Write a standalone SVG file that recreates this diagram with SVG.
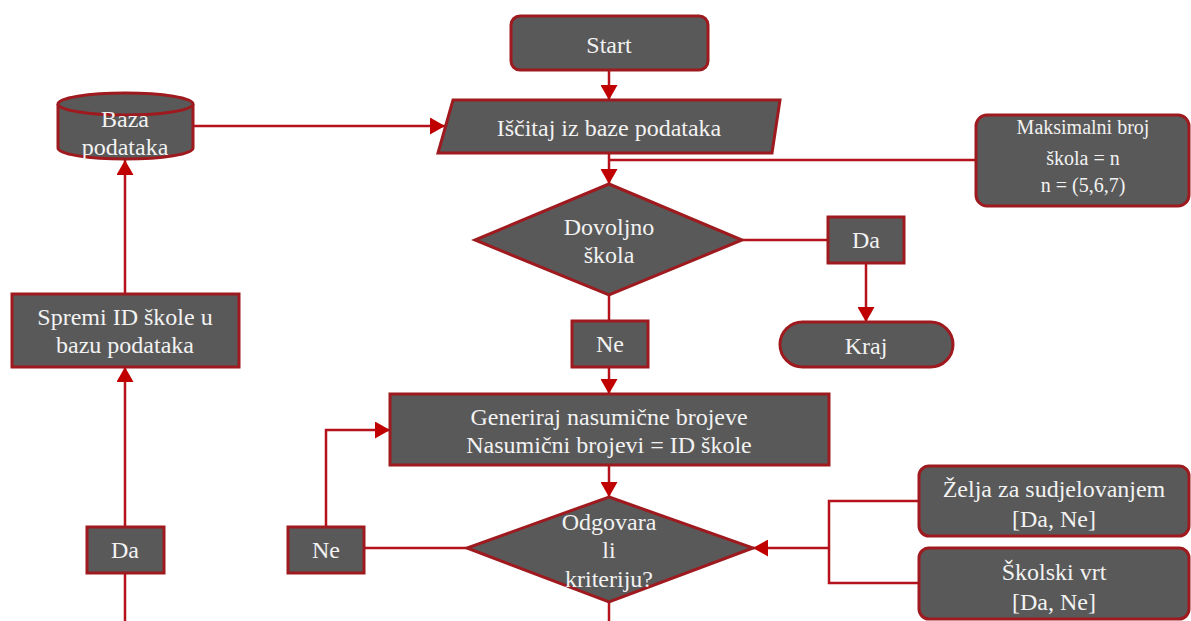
<svg xmlns="http://www.w3.org/2000/svg" width="1191" height="621" viewBox="0 0 1191 621">
<defs>
<style>
.n{fill:#595959;stroke:#9e1a1f;stroke-width:3}
.t{font-family:"Liberation Serif","Times New Roman",serif;font-size:24px;fill:#f2f2f2;text-anchor:middle}
.s{font-size:20px}
.c{fill:none;stroke:#b5121b;stroke-width:2.5}
</style>
<marker id="a" markerUnits="userSpaceOnUse" markerWidth="16" markerHeight="17" refX="15" refY="8.5" orient="auto">
<path d="M0,0 L15,8.5 L0,17 z" fill="#c00000"/>
</marker>
</defs>
<rect width="1191" height="621" fill="#ffffff"/>
<g id="connectors">
<path class="c" d="M609,70 V100" marker-end="url(#a)"/>
<path class="c" d="M193,126 H445" marker-end="url(#a)"/>
<path class="c" d="M609,153 V184" marker-end="url(#a)"/>
<path class="c" d="M609,160 H976"/>
<path class="c" d="M742,240 H828"/>
<path class="c" d="M866,263 V322" marker-end="url(#a)"/>
<path class="c" d="M609,295 V321"/>
<path class="c" d="M609,367 V394" marker-end="url(#a)"/>
<path class="c" d="M609,465 V497" marker-end="url(#a)"/>
<path class="c" d="M609,602 V621"/>
<path class="c" d="M467,548 H364"/>
<path class="c" d="M326,527 V430 H390" marker-end="url(#a)"/>
<path class="c" d="M125,573 V621"/>
<path class="c" d="M125,527 V367" marker-end="url(#a)"/>
<path class="c" d="M125,294 V160" marker-end="url(#a)"/>
<path class="c" d="M919,501 H829 V583 H919"/>
<path class="c" d="M829,548 H753" marker-end="url(#a)"/>
</g>
<g id="start">
<rect class="n" x="511" y="16" width="197" height="54" rx="9"/>
<text class="t" x="609" y="53">Start</text>
</g>
<g id="baza">
<path class="n" d="M58,104 V148 A67.5,11 0 0 0 193,148 V104 A67.5,11 0 0 0 58,104 Z"/>
<path class="n" d="M58,104 A67.5,11 0 0 0 193,104" fill="none"/>
<text class="t" x="125" y="127">Baza</text>
<text class="t" x="125" y="155">podataka</text>
</g>
<g id="iscitaj">
<path class="n" d="M453,100 H780 L772,153 H438 Z"/>
<text class="t" x="609" y="136">Iščitaj iz baze podataka</text>
</g>
<g id="maks">
<rect class="n" x="976" y="115" width="213" height="91" rx="11"/>
<text class="t s" x="1083" y="134">Maksimalni broj</text>
<text class="t s" x="1083" y="165">škola = n</text>
<text class="t s" x="1083" y="192">n = (5,6,7)</text>
</g>
<g id="dovoljno">
<path class="n" d="M609,184 L742,240 L609,295 L475,240 Z"/>
<text class="t" x="609" y="235">Dovoljno</text>
<text class="t" x="609" y="263">škola</text>
</g>
<g id="da1">
<rect class="n" x="828" y="217" width="76" height="46"/>
<text class="t" x="866" y="248">Da</text>
</g>
<g id="kraj">
<rect class="n" x="780" y="322" width="173" height="45" rx="22.5"/>
<text class="t" x="866" y="354">Kraj</text>
</g>
<g id="ne1">
<rect class="n" x="572" y="321" width="76" height="46"/>
<text class="t" x="610" y="352">Ne</text>
</g>
<g id="generiraj">
<rect class="n" x="390" y="394" width="439" height="71"/>
<text class="t" x="609" y="425">Generiraj nasumične brojeve</text>
<text class="t" x="609" y="453">Nasumični brojevi = ID škole</text>
</g>
<g id="odgovara">
<path class="n" d="M609,497 L753,548 L609,602 L467,548 Z"/>
<text class="t" x="609" y="530">Odgovara</text>
<text class="t" x="609" y="558">li</text>
<text class="t" x="609" y="587">kriteriju?</text>
</g>
<g id="ne2">
<rect class="n" x="288" y="527" width="76" height="46"/>
<text class="t" x="326" y="558">Ne</text>
</g>
<g id="da2">
<rect class="n" x="87" y="527" width="77" height="46"/>
<text class="t" x="125" y="558">Da</text>
</g>
<g id="spremi">
<rect class="n" x="12" y="294" width="227" height="73"/>
<text class="t" x="125" y="325">Spremi ID škole u</text>
<text class="t" x="125" y="353">bazu podataka</text>
</g>
<g id="zelja">
<rect class="n" x="919" y="466" width="270" height="70" rx="10"/>
<text class="t" x="1054" y="497">Želja za sudjelovanjem</text>
<text class="t" x="1054" y="527">[Da, Ne]</text>
</g>
<g id="vrt">
<rect class="n" x="919" y="548" width="270" height="71" rx="10"/>
<text class="t" x="1054" y="580">Školski vrt</text>
<text class="t" x="1054" y="610">[Da, Ne]</text>
</g>
</svg>
